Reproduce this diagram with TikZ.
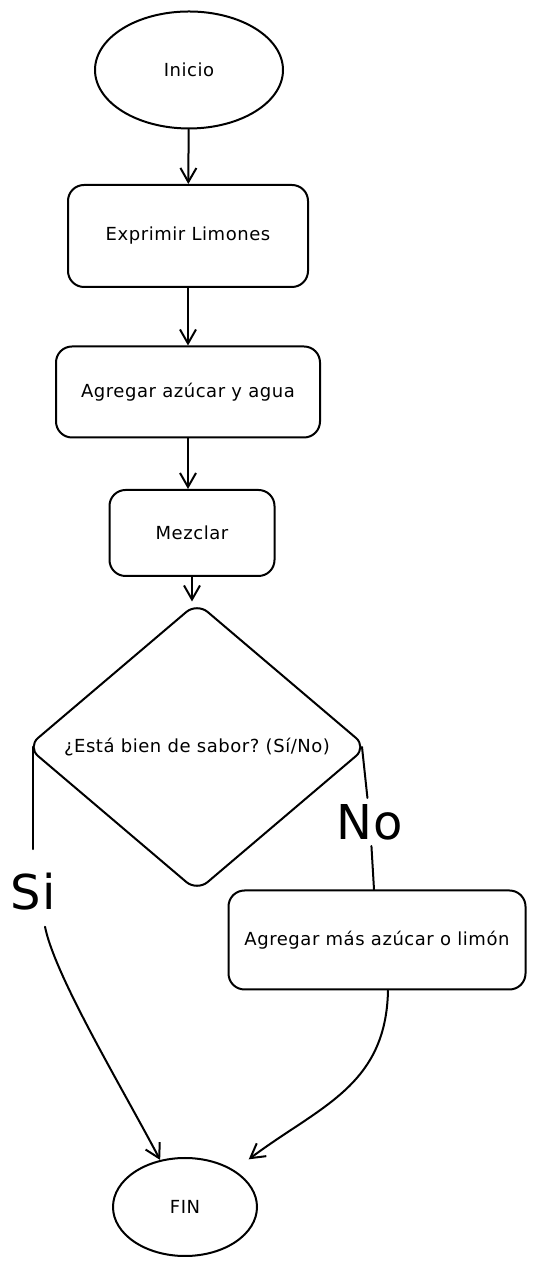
\documentclass[tikz,border=0pt]{standalone}
\usepackage{fontspec}
\setmainfont{DejaVu Sans}[LetterSpace=3.0]
\frenchspacing
\usetikzlibrary{shapes.geometric,arrows.meta}
\begin{document}
\begin{tikzpicture}[>={Straight Barb[length=14bp,width=16bp]},line join=round,line cap=round,
  every node/.style={font=\fontsize{18bp}{21bp}\selectfont},
  proc/.style={draw,line width=2bp,rounded corners=16bp,inner sep=0pt},
  term/.style={draw,ellipse,line width=2bp,inner sep=0pt},
  cond/.style={draw,diamond,line width=2bp,rounded corners=14bp,inner sep=0pt},
  branch/.style={font=\fontsize{48bp}{52bp}\selectfont,inner sep=6bp},
  flow/.style={black,line width=2bp},]
%%
\useasboundingbox (0bp,0bp) rectangle (537bp,1266bp);
\node (node_0) at (189bp,1196bp) [term,minimum width=188bp,minimum height=117bp] {Inicio};
  \node (node_1) at (188bp,1030bp) [proc,minimum width=240bp,minimum height=102bp] {Exprimir Limones};
  \node (node_2) at (188bp,874bp) [proc,minimum width=264bp,minimum height=91bp] {Agregar azúcar y agua};
  \node (node_3) at (192bp,733bp) [proc,minimum width=165bp,minimum height=86bp] {Mezclar};
  \node (node_4) at (197bp,519bp) [cond,minimum width=340bp,minimum height=289bp] {¿Está bien de sabor? (Sí/No)};
  \node (node_5) at (377bp,326bp) [proc,minimum width=297bp,minimum height=99bp] {Agregar más azúcar o limón};
  \node (node_6) at (185bp,59bp) [term,minimum width=144bp,minimum height=98bp] {FIN};
  \node (node_7) at (33bp,374bp) [branch] {Si};
  \node (node_8) at (370bp,444bp) [branch] {No};
%
  \draw [flow,->] (node_0) -- (node_1);
  \draw [flow,->] (node_1) -- (node_2);
  \draw [flow,->] (node_2) -- (node_2 |- node_3.north);
  \draw [flow,->] (node_3) -- (node_3 |- node_4.north);
  \draw [flow,shorten >=18bp] (node_4.west -| node_7) -- (node_7);
  \draw [flow,->] ([xshift=12bp,yshift=-10bp]node_7.south) ..controls (55bp,290bp) and (120bp,182bp) .. (node_6);
  \draw [flow] ([xshift=-6bp]node_4.east) -- (node_8);
  \draw [flow] (node_8) -- (node_5);
  \draw [flow,->,shorten >=18bp] ([xshift=11bp]node_5.south) ..controls (386bp,180bp) and (320bp,160bp) .. (node_6);
%
\end{tikzpicture}
\end{document}
